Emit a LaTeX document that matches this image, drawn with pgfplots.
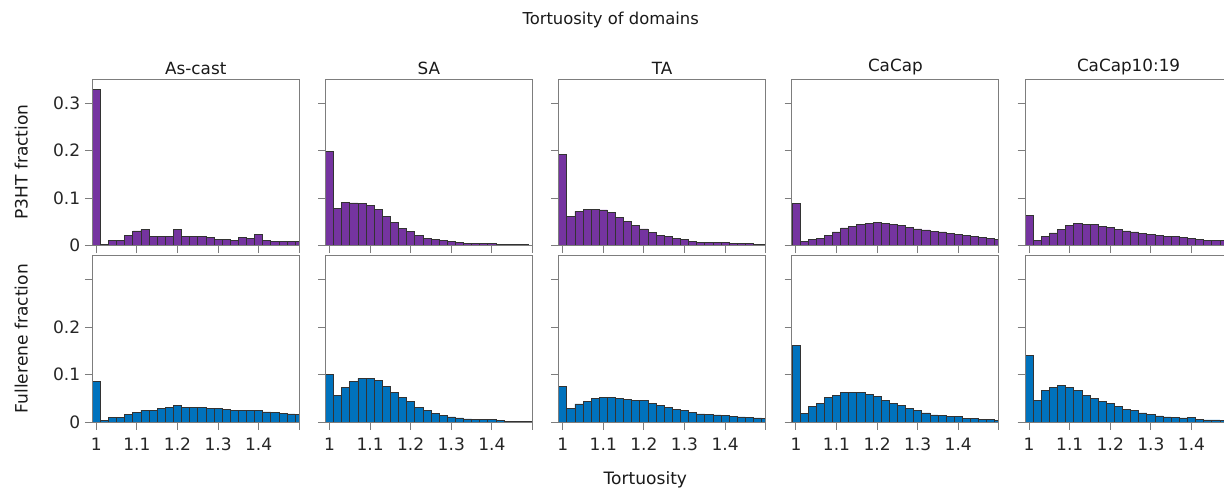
\documentclass[border=0pt]{standalone}
\usepackage{fontspec}
\setmainfont{DejaVu Sans}
\usepackage{pgfplots}
\pgfplotsset{compat=1.18}
\usepackage{pgfplotstable}
\definecolor{pur}{RGB}{117,52,160}
\definecolor{blu}{RGB}{0,114,189}
\definecolor{axgray}{RGB}{125,125,125}

\pgfplotstableread{
x    Pac    Psa    Pta    Pcc    Pcd    Fac    Fsa    Fta    Fcc    Fcd
0.99 0.329  0.198  0.192  0.0887 0.0634 0.0866 0.100  0.0754 0.161  0.140
1.01 0.0035 0.078  0.061  0.0092 0.0106 0.0042 0.0556 0.0296 0.019  0.0458
1.03 0.012  0.0915 0.0725 0.014  0.019  0.0099 0.074  0.0387 0.0331 0.0669
1.05 0.011  0.090  0.0768 0.0148 0.0268 0.0106 0.0852 0.0444 0.0394 0.0732
1.07 0.022  0.0887 0.0768 0.0225 0.0345 0.0162 0.0923 0.050  0.0514 0.0775
1.09 0.031  0.0845 0.0754 0.0289 0.0423 0.0204 0.0923 0.0514 0.057  0.074
1.11 0.034  0.076  0.0704 0.0373 0.0465 0.0254 0.0873 0.0528 0.0627 0.0676
1.13 0.020  0.062  0.060  0.0408 0.045  0.0246 0.0746 0.0507 0.0627 0.0563
1.15 0.019  0.0486 0.0507 0.0444 0.0444 0.0282 0.062  0.0486 0.062  0.0493
1.17 0.020  0.0366 0.0423 0.0465 0.0415 0.031  0.0514 0.0465 0.0592 0.0437
1.19 0.0345 0.0296 0.0352 0.0486 0.0387 0.0352 0.043  0.0451 0.0549 0.0401
1.21 0.019  0.0218 0.0275 0.0465 0.0345 0.0317 0.0303 0.0401 0.0458 0.0324
1.23 0.019  0.0162 0.0225 0.0444 0.031  0.0303 0.024  0.0359 0.0394 0.0275
1.25 0.019  0.0127 0.019  0.0423 0.0289 0.0303 0.0183 0.0317 0.0345 0.024
1.27 0.017  0.0106 0.0155 0.0394 0.026  0.0289 0.0141 0.0275 0.0282 0.0197
1.29 0.0127 0.0085 0.0127 0.0352 0.024  0.0282 0.0113 0.024  0.024  0.0162
1.31 0.0127 0.0063 0.0099 0.0331 0.0218 0.0275 0.0092 0.0211 0.0197 0.0134
1.33 0.0106 0.0049 0.0077 0.0303 0.0204 0.0246 0.007  0.0176 0.0155 0.0113
1.35 0.017  0.0042 0.007  0.0289 0.019  0.0254 0.0063 0.0162 0.0148 0.0099
1.37 0.0155 0.0042 0.0063 0.026  0.0169 0.0254 0.0056 0.0155 0.012  0.0092
1.39 0.023  0.0042 0.0063 0.0246 0.0155 0.0254 0.0063 0.0148 0.012  0.0106
1.41 0.011  0.0028 0.0049 0.0211 0.0134 0.0218 0.0035 0.0127 0.0085 0.0056
1.43 0.0099 0.002  0.0042 0.019  0.012  0.0204 0.0021 0.0113 0.0077 0.0049
1.45 0.0099 0.002  0.0042 0.0169 0.0113 0.0183 0.0021 0.0099 0.0063 0.0049
1.47 0.0099 0.002  0.0035 0.0148 0.0113 0.0176 0.0021 0.0092 0.0056 0.0042
1.49 0.0085 0.0014 0.0028 0.0127 0.0105 0.0162 0.0014 0.0077 0.0042 0.004
1.51 0      0      0      0      0      0      0      0      0      0
}\tdata

\pgfplotsset{
  panel/.style={
    scale only axis, width=155.25pt, height=124.8pt, anchor=south west,
    xmin=0.99, xmax=1.5, ymin=0, ymax=0.35,
    axis line style={axgray, line width=0.8pt},
    tick style={axgray, line width=0.8pt},
    major tick length=5.5pt, tick align=outside,
    xtick pos=bottom, ytick pos=left,
    xtick={1,1.1,1.2,1.3,1.4,1.5}, ytick={0,0.1,0.2,0.3},
    xticklabels={}, yticklabels={},
    tick label style={font=\fontsize{12.8}{14}\selectfont, text=black!85},
    xticklabel style={yshift=-3pt},
    title style={font=\fontsize{12.6}{14}\selectfont, text=black!90, yshift=-6pt},
    axis on top,
  },
  hb/.style={ybar interval, draw=black!80, line width=0.55pt, fill=#1},
  botx/.style={xticklabels={1,1.1,1.2,1.3,1.4,}},
}

\begin{document}
\begin{tikzpicture}
\useasboundingbox (0pt,0pt) rectangle (918pt,-366pt);
% top row
\begin{axis}[panel, at={(69.2pt,-184.3pt)}, title={As-cast}, yticklabels={0,0.1,0.2,0.3}]
\addplot[hb=pur] table[x=x,y=Pac]{\tdata};
\end{axis}
\begin{axis}[panel, at={(244.1pt,-184.3pt)}, title={SA}]
\addplot[hb=pur] table[x=x,y=Psa]{\tdata};
\end{axis}
\begin{axis}[panel, at={(419.0pt,-184.3pt)}, title={TA}]
\addplot[hb=pur] table[x=x,y=Pta]{\tdata};
\end{axis}
\begin{axis}[panel, at={(593.9pt,-184.3pt)}, title={CaCap}]
\addplot[hb=pur] table[x=x,y=Pcc]{\tdata};
\end{axis}
\begin{axis}[panel, at={(768.8pt,-184.3pt)}, title={CaCap10:19}]
\addplot[hb=pur] table[x=x,y=Pcd]{\tdata};
\end{axis}
% bottom row
\begin{axis}[panel, botx, at={(69.2pt,-316.7pt)}, yticklabels={0,0.1,0.2,}]
\addplot[hb=blu] table[x=x,y=Fac]{\tdata};
\end{axis}
\begin{axis}[panel, botx, at={(244.1pt,-316.7pt)}]
\addplot[hb=blu] table[x=x,y=Fsa]{\tdata};
\end{axis}
\begin{axis}[panel, botx, at={(419.0pt,-316.7pt)}]
\addplot[hb=blu] table[x=x,y=Fta]{\tdata};
\end{axis}
\begin{axis}[panel, botx, at={(593.9pt,-316.7pt)}]
\addplot[hb=blu] table[x=x,y=Fcc]{\tdata};
\end{axis}
\begin{axis}[panel, botx, at={(768.8pt,-316.7pt)}]
\addplot[hb=blu] table[x=x,y=Fcd]{\tdata};
\end{axis}
\node[font=\fontsize{12.3}{14}\selectfont, text=black!90] at (458pt,-15pt) {Tortuosity of domains};
\node[font=\fontsize{12.8}{14}\selectfont, text=black!90] at (484pt,-359.5pt) {Tortuosity};
\node[font=\fontsize{12.8}{14}\selectfont, text=black!90, rotate=90] at (16pt,-121.5pt) {P3HT fraction};
\node[font=\fontsize{12.8}{14}\selectfont, text=black!90, rotate=90] at (16pt,-254pt) {Fullerene fraction};
\end{tikzpicture}
\end{document}
